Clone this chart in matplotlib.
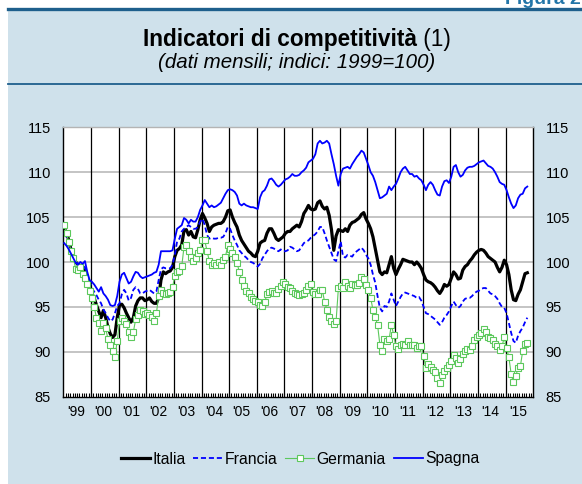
import numpy as np
import matplotlib
matplotlib.use("Agg")
import matplotlib.pyplot as plt
from matplotlib.patches import Rectangle
from matplotlib.lines import Line2D

plt.rcParams['font.family'] = ['Liberation Sans', 'DejaVu Sans']

# ---------------- data (monthly, Jan 1999 - Oct 2015) ----------------
start_year = 1999
italia = [
    103.7, 103.3, 102.4, 101.3, 100.6, 100.0, 99.7, 99.5, 99.3, 98.9, 98.0, 97.3,
    96.5, 96.0, 95.2, 94.5, 93.8, 94.6, 93.8, 92.7, 92.0, 91.6, 91.9, 93.8,
    95.2, 95.3, 94.9, 94.3, 93.8, 93.3, 93.8, 95.1, 95.7, 96.0, 96.0, 95.7,
    95.8, 96.0, 95.6, 95.4, 95.4, 96.0, 98.0, 98.9, 98.7, 98.9, 99.0, 99.4,
    100.6, 101.3, 101.5, 101.9, 103.5, 103.6, 103.0, 103.4, 102.8, 102.7, 103.6, 104.7,
    105.4, 104.9, 104.3, 103.4, 103.9, 104.1, 104.2, 104.3, 104.3, 104.5, 105.0, 105.7,
    105.8, 105.0, 104.4, 103.9, 103.0, 102.4, 102.0, 101.6, 101.2, 101.0, 100.7, 100.6,
    101.2, 102.1, 102.3, 102.4, 103.2, 103.7, 103.7, 103.2, 102.6, 102.4, 102.6, 102.8,
    103.2, 103.4, 103.4, 103.7, 103.9, 104.1, 103.9, 104.5, 105.4, 105.8, 106.3, 105.9,
    105.8, 105.9, 106.6, 106.8, 106.2, 105.9, 106.1, 105.2, 103.6, 101.3, 102.9, 103.6,
    103.5, 103.4, 103.7, 103.4, 104.1, 104.4, 104.5, 104.7, 104.9, 105.3, 105.5, 104.8,
    104.3, 103.7, 102.8, 101.5, 100.2, 98.9, 98.6, 98.9, 98.8, 99.7, 100.6, 99.3,
    98.6, 99.2, 99.7, 100.3, 100.2, 100.1, 100.0, 100.0, 99.7, 100.0, 99.7, 99.3,
    98.6, 98.0, 97.8, 97.7, 97.5, 97.2, 96.8, 96.5, 96.9, 97.5, 97.3, 97.5,
    98.2, 98.9, 98.6, 98.1, 98.2, 99.1, 99.5, 99.7, 100.1, 100.4, 100.8, 101.1,
    101.3, 101.4, 101.3, 101.0, 100.6, 100.4, 100.2, 100.0, 99.4, 98.9, 99.4, 100.2,
    99.7, 98.6, 96.9, 95.8, 95.7, 96.4, 96.9, 97.8, 98.7, 98.8,
]
francia = [
    103.2, 102.8, 102.2, 101.4, 100.7, 100.1, 99.8, 99.7, 99.6, 99.4, 98.6, 97.9,
    97.1, 96.7, 96.3, 95.8, 95.4, 94.7, 94.3, 93.8, 93.4, 93.6, 94.3, 95.1,
    95.4, 96.4, 96.9, 96.5, 95.7, 96.0, 96.9, 97.2, 97.0, 96.5, 96.5, 96.7,
    96.8, 96.9, 96.7, 96.5, 96.7, 98.0, 99.2, 99.4, 99.3, 99.3, 99.3, 99.7,
    100.8, 102.3, 102.6, 103.4, 103.7, 103.9, 104.1, 103.9, 103.7, 103.7, 103.9, 104.5,
    104.8, 104.1, 103.0, 102.6, 102.7, 102.6, 102.6, 102.7, 102.7, 102.8, 103.2, 103.9,
    103.7, 103.0, 102.4, 101.9, 101.3, 101.0, 100.7, 100.5, 100.2, 100.0, 99.9, 99.7,
    99.5, 99.8, 100.4, 100.8, 101.2, 101.5, 101.6, 101.5, 101.3, 101.2, 101.4, 101.2,
    101.2, 101.3, 101.7, 101.6, 101.4, 101.2, 101.3, 101.7, 102.1, 102.3, 102.4, 102.7,
    102.9, 103.1, 103.4, 103.9, 103.9, 103.2, 102.4, 101.7, 101.0, 100.3, 100.1, 101.2,
    102.3, 100.6, 100.5, 100.8, 100.7, 100.6, 101.0, 101.2, 101.4, 101.6, 101.3, 100.8,
    100.4, 99.7, 98.6, 97.7, 96.2, 94.9, 94.5, 95.1, 95.0, 95.6, 96.5, 95.8,
    95.1, 95.6, 96.1, 96.5, 96.6, 96.5, 96.4, 96.3, 96.2, 96.0, 96.1, 95.7,
    95.0, 94.3, 94.2, 94.0, 93.8, 93.6, 93.3, 93.0, 93.3, 93.8, 94.1, 94.5,
    95.1, 95.6, 95.2, 94.9, 95.1, 95.6, 95.9, 96.0, 96.0, 96.2, 96.5, 96.7,
    96.8, 97.0, 97.1, 97.1, 96.8, 96.5, 96.4, 96.2, 95.9, 95.4, 95.0, 94.9,
    94.3, 93.2, 92.1, 91.2, 91.0, 91.8, 92.3, 92.7, 93.3, 93.8,
]
germania = [
    104.1, 103.2, 102.2, 101.2, 100.4, 99.2, 99.1, 99.4, 98.7, 98.2, 97.6, 96.8,
    96.0, 95.0, 93.8, 93.2, 92.3, 93.2, 92.6, 91.4, 90.8, 90.1, 89.4, 91.2,
    93.4, 93.8, 93.4, 93.1, 92.2, 91.6, 92.2, 93.6, 94.1, 94.6, 94.5, 94.2,
    94.3, 94.1, 93.9, 93.4, 94.3, 96.2, 96.9, 96.5, 96.4, 96.5, 96.7, 97.2,
    98.4, 98.9, 99.0, 99.5, 101.7, 101.9, 101.2, 100.6, 100.1, 100.5, 101.0, 101.3,
    102.4, 102.4, 101.2, 100.1, 99.7, 99.9, 99.7, 100.0, 99.7, 100.2, 100.6, 101.9,
    101.4, 101.0, 100.6, 99.9, 98.9, 98.0, 97.3, 96.8, 96.5, 96.1, 95.9, 95.7,
    95.5, 95.2, 95.1, 95.5, 96.4, 96.7, 96.8, 96.5, 96.5, 97.0, 97.3, 97.8,
    97.6, 97.2, 97.1, 96.8, 96.5, 96.4, 96.3, 96.4, 96.5, 96.9, 97.3, 97.5,
    96.7, 96.4, 96.4, 96.9, 96.9, 95.6, 94.7, 93.9, 93.4, 93.1, 93.4, 97.1,
    97.3, 97.1, 97.8, 97.3, 97.1, 97.6, 97.4, 97.4, 97.7, 98.3, 98.1, 97.4,
    96.9, 96.0, 94.7, 93.9, 93.0, 90.8, 90.1, 91.4, 91.2, 91.4, 93.0, 91.9,
    90.6, 90.3, 90.8, 90.9, 90.8, 91.2, 90.8, 90.8, 90.8, 90.4, 90.7, 90.6,
    89.5, 88.2, 88.6, 88.3, 88.0, 87.8, 87.1, 86.5, 87.4, 87.9, 88.2, 88.5,
    89.0, 89.6, 89.3, 88.7, 89.2, 89.7, 90.1, 90.3, 90.2, 90.7, 91.3, 91.7,
    91.9, 92.1, 92.5, 92.2, 91.6, 91.5, 91.3, 90.9, 90.6, 90.2, 90.6, 91.6,
    90.4, 89.4, 87.5, 86.6, 87.3, 88.2, 88.4, 90.1, 90.9, 91.0,
]
spagna = [
    102.1, 101.8, 101.4, 100.9, 100.4, 99.9, 99.7, 100.0, 99.8, 100.1, 98.9, 98.0,
    97.8, 97.5, 97.1, 96.7, 97.2, 96.5, 96.2, 95.8, 95.2, 95.1, 95.2, 96.2,
    97.8, 98.6, 98.8, 98.2, 97.6, 97.8, 98.4, 98.9, 98.8, 98.4, 98.2, 98.3,
    98.4, 98.5, 98.6, 98.8, 98.9, 99.7, 101.2, 101.2, 101.2, 101.2, 101.2, 101.3,
    102.6, 103.7, 103.9, 104.1, 104.9, 104.7, 104.3, 104.7, 104.5, 104.5, 105.0, 105.8,
    106.3, 106.9, 106.5, 106.1, 106.3, 106.1, 106.2, 106.4, 106.6, 107.1, 107.6, 108.0,
    108.1, 108.0, 107.8, 107.4, 106.5, 106.3, 106.5, 106.3, 106.2, 106.1, 106.1, 106.0,
    105.9, 107.2, 107.8, 108.0, 108.5, 109.2, 109.3, 109.0, 108.6, 108.4, 108.6, 108.9,
    109.2, 109.3, 109.5, 109.8, 109.6, 109.6, 109.7, 110.0, 110.2, 110.5, 111.1, 111.3,
    111.5, 112.0, 113.2, 113.5, 113.2, 113.3, 113.5, 113.2, 112.0, 110.9, 109.6, 108.5,
    109.8, 110.4, 110.5, 110.6, 110.4, 110.9, 111.3, 111.7, 112.0, 112.4, 112.2, 111.5,
    110.8, 110.0, 109.6, 108.9, 108.0, 107.1, 107.2, 107.4, 107.6, 108.4, 108.0, 108.4,
    108.7, 109.3, 110.0, 110.4, 110.6, 110.2, 109.8, 109.8, 109.5, 109.6, 109.3, 109.1,
    108.6, 108.0, 108.6, 108.9, 108.6, 108.0, 107.5, 107.4, 108.4, 109.0, 109.1, 108.8,
    109.5, 110.6, 110.8, 110.0, 109.5, 109.7, 110.2, 110.5, 110.6, 110.6, 110.7, 110.9,
    111.1, 111.2, 111.3, 111.0, 110.7, 110.6, 110.4, 110.0, 109.5, 108.9, 108.7, 108.6,
    108.0, 107.2, 106.5, 106.0, 106.3, 107.1, 107.5, 107.6, 108.2, 108.4,
]
year_labels = ["'99", "'00", "'01", "'02", "'03", "'04", "'05", "'06", "'07",
               "'08", "'09", "'10", "'11", "'12", "'13", "'14", "'15"]
y_ticks = [85, 90, 95, 100, 105, 110, 115]

# ---------------- figure ----------------
W, H = 582, 484
fig = plt.figure(figsize=(W / 100, H / 100), dpi=100)
fig.patch.set_facecolor('white')
panel_col = '#cfe1eb'
rule_col = '#1e5f8c'
fig.add_artist(Rectangle((8 / W, 0), 1 - 8 / W, 1 - 9 / H, transform=fig.transFigure,
                         facecolor=panel_col, edgecolor='none', zorder=0))
fig.add_artist(Line2D([8 / W, 1], [1 - 9 / H] * 2, transform=fig.transFigure,
                      color=rule_col, lw=2.4, zorder=1))
fig.add_artist(Line2D([8 / W, 1], [1 - 84 / H] * 2, transform=fig.transFigure,
                      color=rule_col, lw=1.3, zorder=1))
fig.text(505 / W, 1 - 4 / H, 'Figura 2', color='#2275a8', fontsize=14,
         weight='bold', ha='left', va='baseline')

cx = 297.0  # horizontal centre of the panel content (px)

# title: bold part + regular "(1)", centred together
ty = 1 - 46 / H
t1 = fig.text(0, ty, 'Indicatori di competitività', fontsize=16.3, weight='bold',
              ha='left', va='baseline')
t2 = fig.text(0, ty, ' (1)', fontsize=16.3, ha='left', va='baseline')
fig.canvas.draw()
r = fig.canvas.get_renderer()
w1 = t1.get_window_extent(r).width
w2 = t2.get_window_extent(r).width
x0 = cx - (w1 + w2) / 2
t1.set_x(x0 / W)
t2.set_x((x0 + w1) / W)
fig.text(cx / W, 1 - 68 / H, '(dati mensili; indici: 1999=100)', fontsize=14.8,
         style='italic', ha='center', va='baseline')

ax = fig.add_axes([63.3 / W, 1 - 396.7 / H, (533.3 - 63.3) / W, (396.7 - 127.3) / H])
ax.set_facecolor('white')

n = len(italia)
x = start_year + (np.arange(n) + 0.4) / 12.0

ax.plot(x, italia, color='black', lw=2.3, zorder=4, label='Italia')
ax.plot(x, francia, color='#0000ff', lw=1.3, dashes=(2.8, 1.6), zorder=5, label='Francia')
ax.plot(x, germania, color='#5cc85c', lw=0.8, marker='s', markersize=3.8,
        markerfacecolor='white', markeredgecolor='#5cc85c', markeredgewidth=0.8,
        zorder=6, label='Germania')
ax.plot(x, spagna, color='#0000ff', lw=1.3, zorder=7, label='Spagna')

n_years = len(year_labels)
ax.set_xlim(start_year, start_year + n_years)
ax.set_ylim(y_ticks[0], y_ticks[-1])
for yv in y_ticks[1:-1]:
    ax.axhline(yv, color='#b4b4b4', lw=1.1, zorder=1)
for k in range(1, n_years):
    ax.axvline(start_year + k, color='black', lw=0.9, zorder=2)

ax.set_yticks(y_ticks)
ax.set_yticklabels([str(v) for v in y_ticks])
ax.tick_params(axis='y', length=0, labelleft=True, labelright=True, pad=9, labelsize=10.5)

ax.set_xticks([start_year + k + 0.45 for k in range(n_years)])
ax.set_xticklabels(year_labels)
ax.set_xticks([start_year + k / 12 for k in range(1, n_years * 12)], minor=True)
ax.tick_params(axis='x', which='major', length=0, pad=6, labelsize=10)
ax.tick_params(axis='x', which='minor', length=3, direction='in', width=0.8, color='black')

for s in ['left', 'right', 'bottom']:
    ax.spines[s].set_color('black')
    ax.spines[s].set_linewidth(1.0)
ax.spines['top'].set_color('#b4b4b4')
ax.spines['top'].set_linewidth(1.0)

leg = fig.legend(loc='center', bbox_to_anchor=(300 / W, 1 - 459 / H), ncol=4, frameon=False,
                 fontsize=11.3, handlelength=1.85, handletextpad=0.15, columnspacing=0.5,
                 numpoints=1)

fig.savefig('out.png', dpi=100, facecolor=fig.get_facecolor())
